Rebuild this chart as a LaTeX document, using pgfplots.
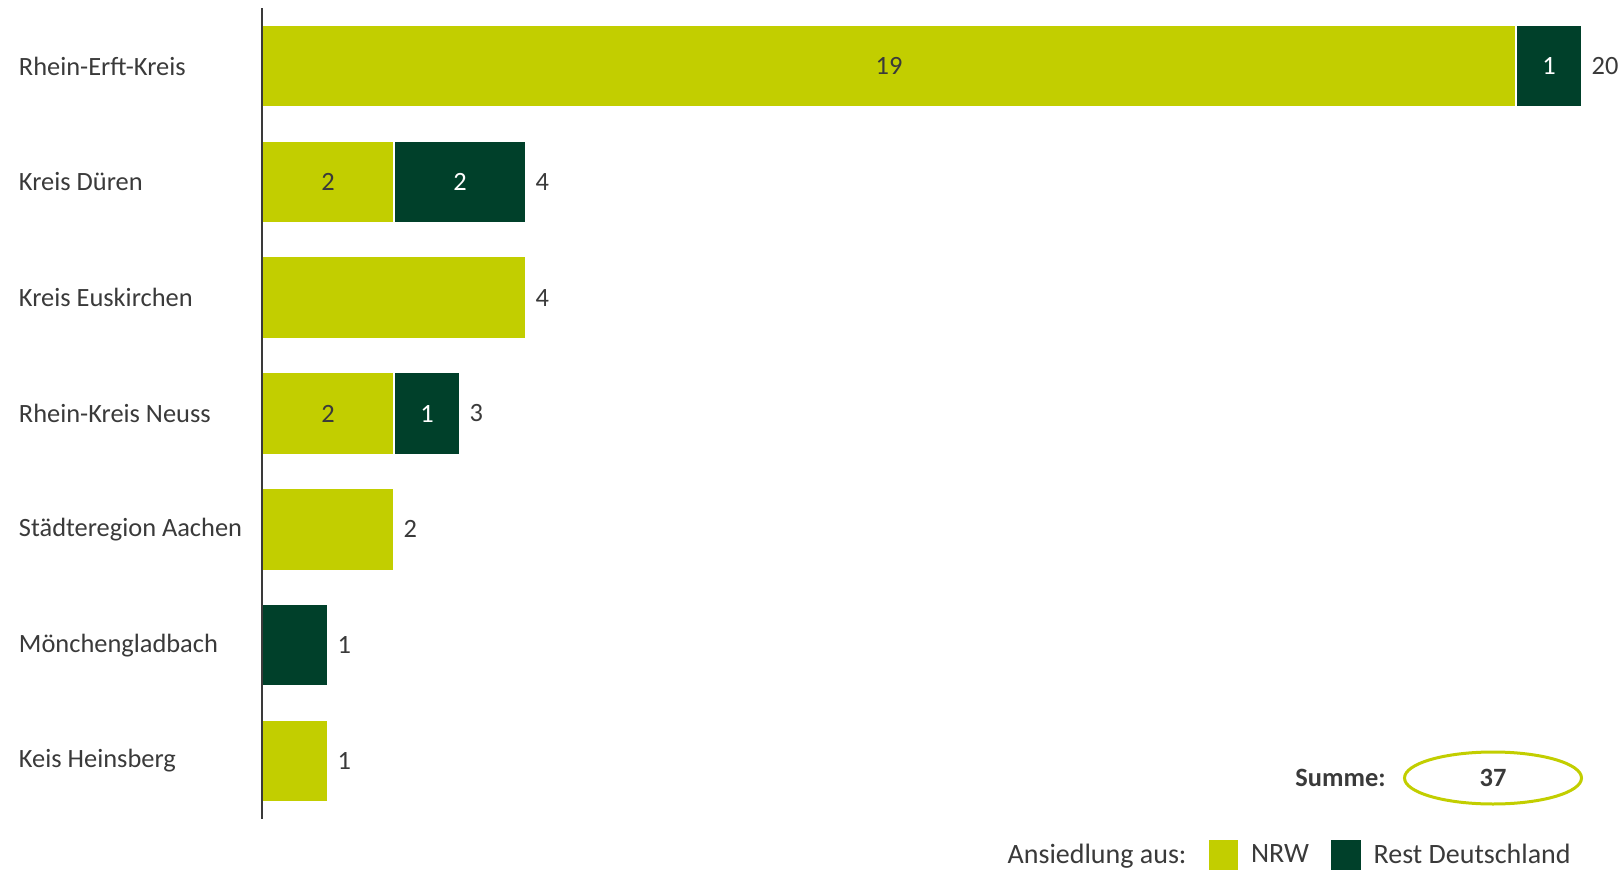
\documentclass[border=0pt]{standalone}
\usepackage{fontspec}
\setmainfont{Carlito}
\usepackage{pgfplots}
\pgfplotsset{compat=1.18}
\usepackage{pgfplotstable}
\definecolor{nrw}{HTML}{C2CE00}
\definecolor{rest}{HTML}{00402A}
\definecolor{txt}{HTML}{3A3A3A}

\pgfplotstableread{
y nrw rest
0 19 1
1 2 2
2 4 0
3 2 1
4 2 0
5 0 1
6 1 0
}\bars
\pgfplotstableread{
x y l
9.5 0 19
1 1 2
1 3 2
}\innernrw
\pgfplotstableread{
x y l
19.5 0 1
3 1 2
2.5 3 1
}\innerrest
\pgfplotstableread{
x y l
20 0 20
4 1 4
4 2 4
3 3 3
2 4 2
1 5 1
1 6 1
}\totals

\pgfplotsset{base/.style={at={(131pt,25pt)}, anchor=south west, scale only axis,
  width=660pt, height=405.5pt, xmin=0, xmax=20, ymin=-0.5, ymax=6.5,
  y dir=reverse, enlargelimits=false, clip=false}}

\begin{document}
\begin{tikzpicture}
\useasboundingbox (0,0) rectangle (811pt,434.5pt);
\begin{axis}[base, xbar stacked, bar width=41pt,
  axis x line=none, axis y line*=left,
  y axis line style={draw=txt, line width=1pt},
  xtick=\empty, ytick={0,...,6},
  yticklabels={Rhein-Erft-Kreis, Kreis Düren, Kreis Euskirchen, Rhein-Kreis Neuss, Städteregion Aachen, Mönchengladbach, Keis Heinsberg},
  major tick length=0pt,
  yticklabel style={anchor=west, inner sep=0pt, xshift=-121.7pt, font=\fontsize{13.2}{15}\selectfont, text=txt},
  axis on top,
  legend columns=-1,
  legend style={at={(0.9917,-0.0444)}, anchor=east, draw=none, fill=none, inner sep=0pt,
    font=\fontsize{14}{16}\selectfont, text=txt,
    nodes={inner sep=0pt},
    /tikz/every odd column/.append style={column sep=6.5pt},
    /tikz/every even column/.append style={column sep=11pt}},
]
\addlegendimage{empty legend}
\addlegendentry{Ansiedlung aus:\hspace{4pt}}
\addplot[fill=nrw, draw=white, line width=0.8pt,
  legend image code/.code={\fill[nrw] (0pt,-7pt) rectangle (14pt,7pt);}]
  table[x=nrw, y=y] {\bars};
\addlegendentry{NRW}
\addplot[fill=rest, draw=white, line width=0.8pt,
  legend image code/.code={\fill[rest] (0pt,-7pt) rectangle (14pt,7pt);}]
  table[x=rest, y=y] {\bars};
\addlegendentry{Rest Deutschland}
\end{axis}
\begin{axis}[base, hide axis]
\addplot[draw=none, mark=none, nodes near coords, point meta=explicit symbolic,
  every node near coord/.append style={anchor=center, text=txt, font=\fontsize{13.2}{15}\selectfont}]
  table[x=x, y=y, meta=l] {\innernrw};
\addplot[draw=none, mark=none, nodes near coords, point meta=explicit symbolic,
  every node near coord/.append style={anchor=center, text=white, font=\fontsize{13.2}{15}\selectfont}]
  table[x=x, y=y, meta=l] {\innerrest};
\addplot[draw=none, mark=none, nodes near coords, point meta=explicit symbolic,
  every node near coord/.append style={anchor=west, inner sep=0pt, xshift=4.6pt, text=txt, font=\fontsize{13.2}{15}\selectfont}]
  table[x=x, y=y, meta=l] {\totals};
\end{axis}
\node[anchor=east, inner sep=0pt, text=txt, font=\fontsize{13.2}{15}\selectfont\bfseries] at (693pt,45.5pt) {Summe:};
\draw[nrw, line width=1.5pt] (746.5pt,45.5pt) ellipse [x radius=44.25pt, y radius=13pt];
\node[text=txt, font=\fontsize{13.2}{15}\selectfont\bfseries] at (746.5pt,45.5pt) {37};
\end{tikzpicture}
\end{document}
